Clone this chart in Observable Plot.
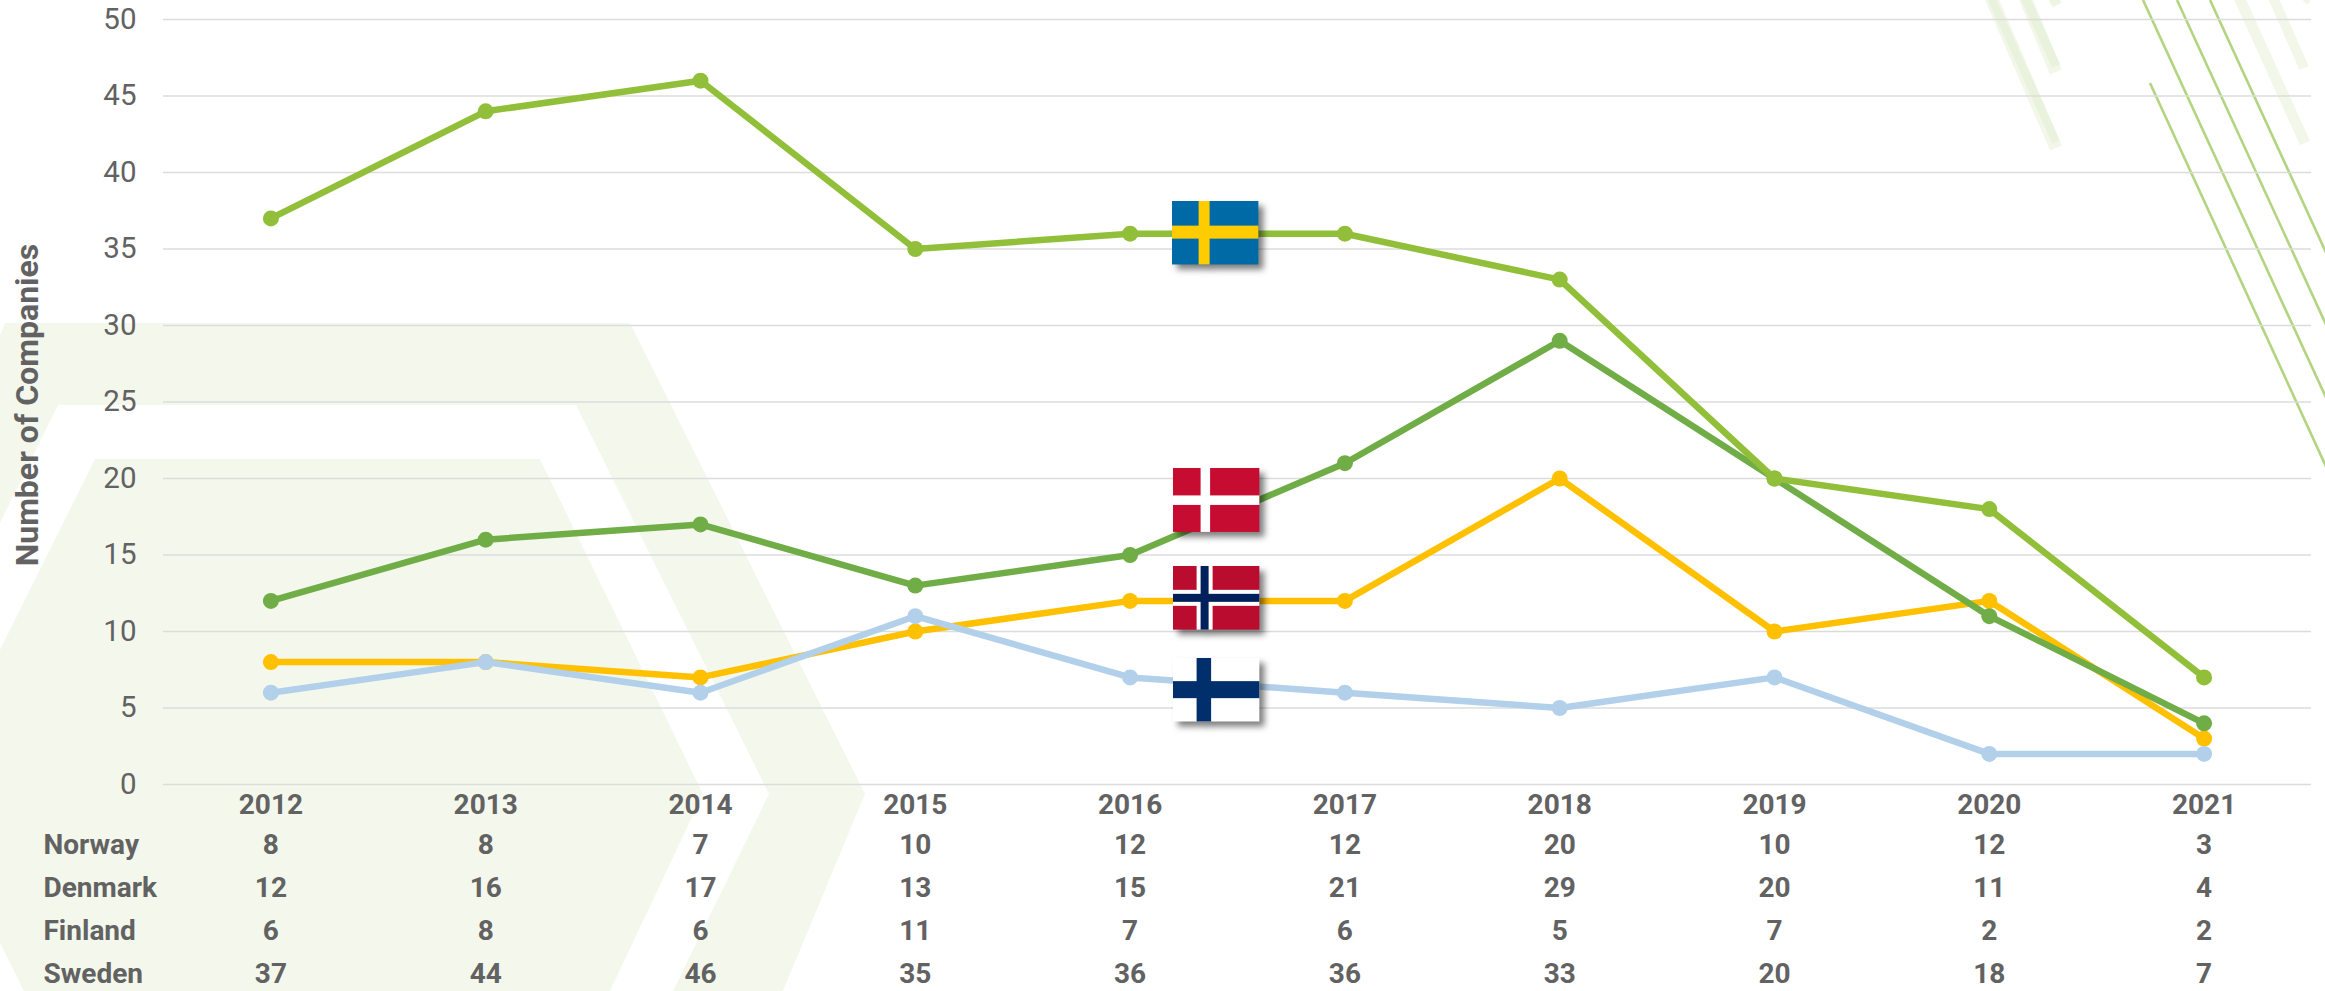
<!DOCTYPE html>
<html>
<head>
<meta charset="utf-8">
<script src="https://cdn.jsdelivr.net/npm/d3@7"></script>
<script src="https://cdn.jsdelivr.net/npm/@observablehq/plot@0.6"></script>
<style>
html,body{margin:0;padding:0;background:#fff;overflow:hidden}
svg.chart{display:block}
.flag{filter:drop-shadow(5px 5px 3px rgba(0,0,0,.5))}
</style>
</head>
<body>
<div id="chart"></div>
<script>
const years = [2012,2013,2014,2015,2016,2017,2018,2019,2020,2021];
const norway  = [8,8,7,10,12,12,20,10,12,3];
const denmark = [12,16,17,13,15,21,29,20,11,4];
const finland = [6,8,6,11,7,6,5,7,2,2];
const sweden  = [37,44,46,35,36,36,33,20,18,7];
const rowNames = ["Norway","Denmark","Finland","Sweden"];
const rowValues = [norway,denmark,finland,sweden];
const lineOrder = ["Norway","Denmark","Finland","Sweden"];
const colors = {Norway:"#ffc000",Denmark:"#70ad47",Finland:"#b3d0eb",Sweden:"#92bf3a"};
const textColor = "#626262";

const flagSvg = s => "data:image/svg+xml," + encodeURIComponent(`<svg xmlns="http://www.w3.org/2000/svg" viewBox="0 0 87 64" preserveAspectRatio="none">${s}</svg>`);
const flagsA = [
  {name:"Sweden", level:36.07, src:flagSvg('<rect width="87" height="64" fill="#006aa7"/><rect x="27" width="11" height="64" fill="#fecc00"/><rect y="25" width="87" height="13" fill="#fecc00"/>')}
];
const flagsB = [
  {name:"Denmark",level:18.6,src:flagSvg('<rect width="87" height="64" fill="#c60c30"/><rect x="28" width="9.5" height="64" fill="#fff"/><rect y="27.5" width="87" height="9.5" fill="#fff"/>')},
  {name:"Norway", level:12.2,src:flagSvg('<rect width="87" height="64" fill="#ba0c2f"/><rect x="24" width="16" height="64" fill="#fff"/><rect y="24" width="87" height="16" fill="#fff"/><rect x="28" width="8" height="64" fill="#00205b"/><rect y="28" width="87" height="8" fill="#00205b"/>')},
  {name:"Finland",level:6.2, src:flagSvg('<rect width="87" height="64" fill="#fff"/><rect x="24" width="14.5" height="64" fill="#002f6c"/><rect y="23.5" width="87" height="17" fill="#002f6c"/>')}
];

const seriesMarks = lineOrder.flatMap(name => {
  const v = rowValues[rowNames.indexOf(name)];
  const rows = years.map((year,i) => ({year, value:v[i]}));
  return [
    Plot.line(rows,{x:"year",y:"value",stroke:colors[name],strokeWidth:6.5,curve:"linear"}),
    Plot.dot(rows,{x:"year",y:"value",fill:colors[name],r:8})
  ];
});

// decorative backdrop, pixel-placed artwork (not data)
function backdrop(){
  const g = d3.create("svg:g");
  const pale = "#f4f8ec";
  g.append("path").attr("fill",pale).attr("d","M0,335L5,323L630,323L865,794L783,991L673,991L769,794L576,405L58,405L0,523Z");
  g.append("path").attr("fill",pale).attr("d","M95,459L540,459L703,794L610,991L24,991L0,943L0,650Z");
  const thick = [
    [1990,-5,2056,148,13,"#f2f7ea"],[2024,-5,2056,72,13,"#f2f7ea"],
    [1990,-5,2056,142,8,"#e9f2dc"],[2024,-5,2056,66,9,"#e9f2dc"],[2053,-3,2057,5,10,"#eef5e3"],
    [2238,-5,2305,143,11,"#f3f7ea"],[2272,-5,2304,68,10,"#f3f7ea"],[2305,-2,2310,1,8,"#f3f7ea"]
  ];
  for (const [x1,y1,x2,y2,w,c] of thick)
    g.append("line").attr("x1",x1).attr("y1",y1).attr("x2",x2).attr("y2",y2).attr("stroke",c).attr("stroke-width",w);
  const thin = [[2143,0,2340,428],[2177,0,2340,355],[2210,0,2340,283],[2150,83,2340,497]];
  for (const [x1,y1,x2,y2] of thin)
    g.append("line").attr("x1",x1).attr("y1",y1).attr("x2",x2).attr("y2",y2).attr("stroke","#b3d480").attr("stroke-width",2.6);
  return g.node();
}

const tableRows = rowNames.flatMap((name,r) => [
  Plot.text([name],{frameAnchor:"left",y:()=>0,dx:-120,dy:61+r*42.7,text:d=>d,textAnchor:"start",fontSize:28,fontWeight:700,fontFamily:"Roboto",fill:textColor}),
  Plot.text(years.map((year,i)=>({year,v:rowValues[r][i]})),{x:"year",y:()=>0,dy:61+r*42.7,text:d=>String(d.v),fontSize:28,fontWeight:700,fontFamily:"Roboto",fill:textColor})
]);

const plot = Plot.plot({
  width:2325,height:991,
  marginLeft:163,marginRight:14,marginTop:19,marginBottom:207,
  className:"chart",
  style:{background:"transparent",fontFamily:"Roboto",overflow:"hidden"},
  x:{type:"point",domain:years,padding:0.5,round:false},
  y:{domain:[0,50]},
  marks:[
    backdrop,
    Plot.gridY(d3.range(0,51,5),{stroke:"#dcdcdc",strokeOpacity:1,strokeWidth:1.6}),
    Plot.axisY(d3.range(0,51,5),{tickSize:0,tickPadding:27,fontSize:29.5,fill:textColor,label:null,fontFamily:"Roboto"}),
    Plot.axisX(years,{tickSize:0,tickPadding:10,fontSize:28,fontWeight:700,fill:textColor,label:null,fontFamily:"Roboto",tickFormat:d=>String(d)}),
    Plot.text(["Number of Companies"],{frameAnchor:"left",dx:-136,y:()=>24.8,text:d=>d,rotate:-90,textAnchor:"middle",fontSize:32,fontWeight:700,fontFamily:"Roboto",fill:textColor}),
    ...seriesMarks,
    Plot.image(flagsA,{x:()=>2016,y:"level",src:"src",width:87,height:64,dx:85,className:"flag",preserveAspectRatio:"none"}),
    Plot.image(flagsB,{x:()=>2016,y:"level",src:"src",width:87,height:64,dx:86,className:"flag",preserveAspectRatio:"none"}),
    ...tableRows
  ]
});
document.getElementById("chart").appendChild(plot);
</script>
</body>
</html>
